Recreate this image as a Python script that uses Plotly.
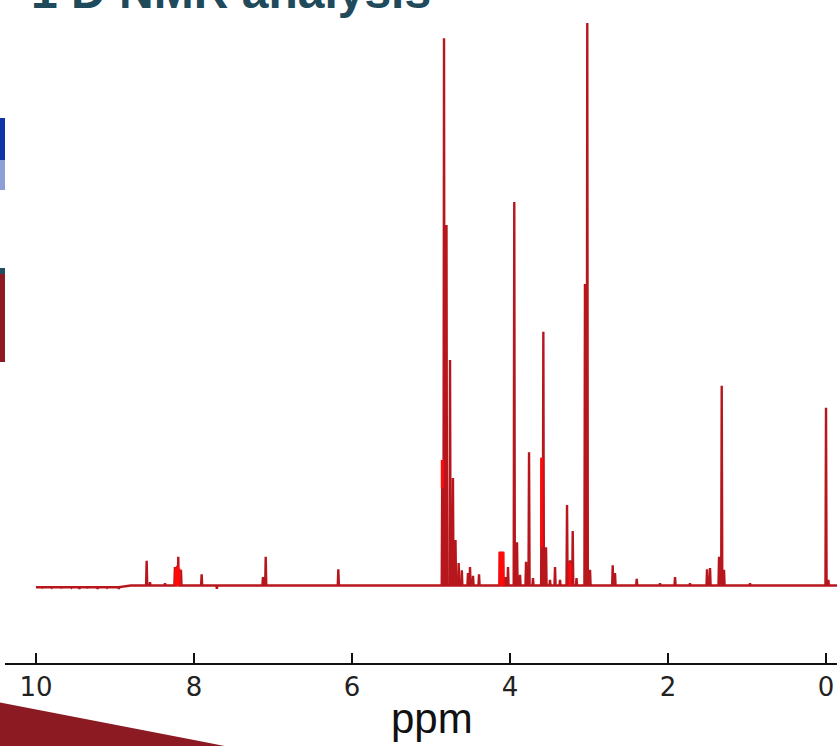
import plotly.graph_objects as go

# ---------------- data ----------------
title_text = "1 D NMR analysis"
x_label = "ppm"
tick_vals = [10, 8, 6, 4, 2, 0]
tick_text = ["10", "8", "6", "4", "2", "0"]

# peak positions (ppm) and relative intensities (tallest = 100)
peak_ppm = [8.599, 8.557, 8.367, 8.241, 8.219, 8.199, 8.165, 7.903, 7.127, 7.092, 6.173,
            4.857, 4.835, 4.804, 4.759, 4.722, 4.690, 4.650, 4.610, 4.532, 4.506, 4.468, 4.392,
            4.127, 4.089, 4.057, 4.025, 3.946, 3.911, 3.873, 3.797, 3.759, 3.709,
            3.599, 3.578, 3.544, 3.494, 3.430, 3.367, 3.278, 3.241, 3.206, 3.158,
            3.051, 3.022, 2.987, 2.700, 2.671, 2.396, 2.101, 1.911, 1.722,
            1.506, 1.468, 1.354, 1.320, 1.291, 0.962, 0.000, -0.030]
peak_int = [4.4, 0.6, 0.4, 3.3, 2.9, 5.1, 2.8, 2.0, 1.5, 5.1, 2.9,
            22.3, 97.3, 64.1, 40.1, 19.1, 8.1, 4.0, 2.7, 2.2, 3.3, 1.7, 2.0,
            6.0, 6.0, 1.5, 3.3, 68.2, 7.7, 1.9, 4.2, 23.7, 1.3,
            22.7, 45.1, 6.8, 1.0, 3.3, 1.0, 14.3, 4.5, 9.7, 1.3,
            53.6, 100.0, 2.8, 3.6, 2.2, 1.2, 0.4, 1.5, 0.4,
            2.9, 3.1, 5.1, 35.5, 2.8, 0.4, 31.6, 1.0]

# small baseline noise dips (negative sticks)
noise_ppm = [9.92, 9.80, 9.68, 9.55, 9.45, 9.35, 9.22, 9.10, 8.95, 7.71]
noise_int = [-0.5, -0.4, -0.5, -0.4, -0.6, -0.5, -0.6, -0.4, -0.6, -0.6]

# spectrum limits
spec_start, spec_end = 10.0, -0.14

# overlapping bright-red segments
bright_ppm = [4.857, 3.599, 4.127, 4.108, 4.089, 8.230, 8.210, 8.190, 3.241]
bright_lo = [17.3, 6.8, 0.0, 0.0, 0.0, 0.0, 0.0, 0.0, 0.0]
bright_hi = [22.3, 22.7, 6.0, 6.0, 6.0, 3.0, 3.5, 3.0, 4.0]

# ---------------- build spectrum path ----------------
w = 0.007
pts = [(spec_start, -0.3), (spec_end, 0.0)]
for p, h in zip(peak_ppm + noise_ppm, peak_int + noise_int):
    base = -0.3 if p > 8.8 else 0.0
    pts.append((p + w, base))
    pts.append((p, h))
    pts.append((p - w, base))
pts.append((8.80, 0.0))
pts.sort(key=lambda t: -t[0])
sx = [t[0] for t in pts]
sy = [t[1] for t in pts]

bx, by = [], []
for p, lo, hi in zip(bright_ppm, bright_lo, bright_hi):
    bx += [p, p, None]
    by += [lo, hi, None]

fig = go.Figure()
fig.add_trace(go.Scatter(x=sx, y=sy, mode="lines",
                         line=dict(color="#b8161d", width=2.4), hoverinfo="skip"))
fig.add_trace(go.Scatter(x=bx, y=by, mode="lines",
                         line=dict(color="#ff0a0a", width=3), hoverinfo="skip"))

# pixel helpers for decoration placement
L, T, W, H = 5, 0, 832, 663
def px(x):
    return (x - L) / W
def py(y):
    return 1 - (y - T) / H

shapes = [
    # blue logo strip
    dict(type="rect", xref="paper", yref="paper", x0=px(-2), x1=px(5), y0=py(118), y1=py(160),
         fillcolor="#1034a6", line_width=0),
    dict(type="rect", xref="paper", yref="paper", x0=px(-2), x1=px(5), y0=py(160), y1=py(190),
         fillcolor="#8c9fd6", line_width=0),
    # dark red logo
    dict(type="rect", xref="paper", yref="paper", x0=px(-2), x1=px(5), y0=py(268), y1=py(274),
         fillcolor="#1f4e5f", line_width=0),
    dict(type="rect", xref="paper", yref="paper", x0=px(-2), x1=px(5), y0=py(274), y1=py(362),
         fillcolor="#8e1b24", line_width=0),
    # swoosh at bottom left
    dict(type="path", xref="paper", yref="paper",
         path=f"M {px(-3)},{py(702)} Q {px(90)},{py(720)} {px(235)},{py(748)} L {px(-3)},{py(748)} Z",
         fillcolor="#8b1a22", line_width=0),
]

annotations = [
    dict(text=f"<b>{title_text}</b>", xref="paper", yref="paper", x=px(29), y=py(20),
         xanchor="left", yanchor="bottom", showarrow=False,
         font=dict(family="Liberation Sans, Arial, sans-serif", size=48, color="#1f4a5c")),
    dict(text=x_label, xref="paper", yref="paper", x=px(432), y=py(718),
         xanchor="center", yanchor="middle", showarrow=False,
         font=dict(family="Liberation Sans, Arial", size=42, color="#111")),
]

fig.update_layout(
    width=837, height=746,
    margin=dict(l=L, r=0, t=T, b=746 - H),
    paper_bgcolor="white", plot_bgcolor="white",
    showlegend=False,
    shapes=shapes, annotations=annotations,
    xaxis=dict(range=[10.392, -0.139], showline=True, linecolor="#111", linewidth=2,
               ticks="inside", ticklen=10, tickwidth=1.5, tickcolor="#111",
               tickvals=tick_vals, ticktext=tick_text,
               tickfont=dict(family="DejaVu Sans", size=26, color="#222"),
               showgrid=False, zeroline=False, ticklabeloverflow="allow"),
    yaxis=dict(range=[-13.78, 104.1], visible=False, showgrid=False, zeroline=False),
)

fig.write_html("out.html")
